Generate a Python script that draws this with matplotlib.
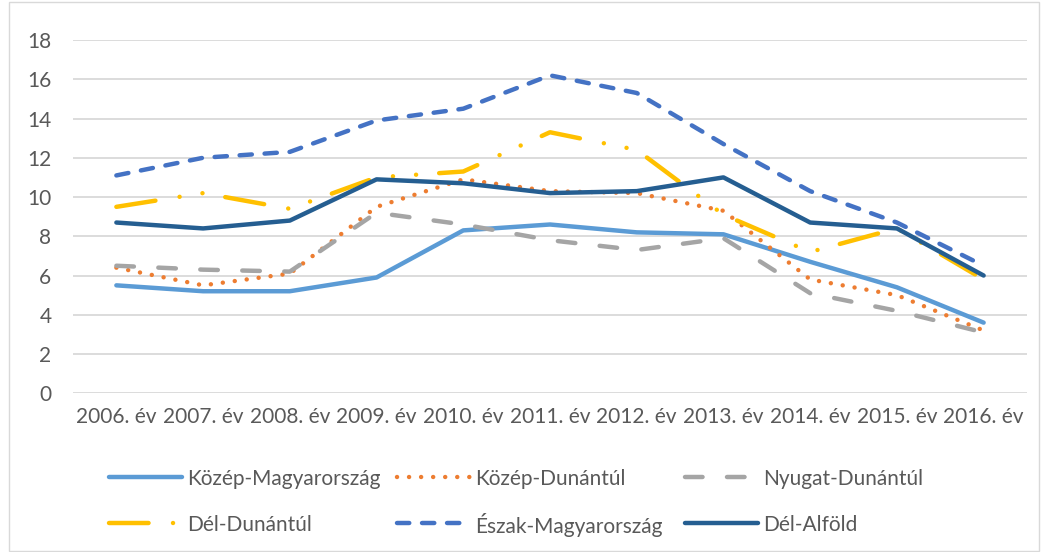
import matplotlib
matplotlib.use("Agg")
import matplotlib.pyplot as plt
from matplotlib.patches import Rectangle
from matplotlib.lines import Line2D

plt.rcParams['font.family'] = ['Lato', 'DejaVu Sans']

# data
years = ['2006. év', '2007. év', '2008. év', '2009. év', '2010. év', '2011. év',
         '2012. év', '2013. év', '2014. év', '2015. év', '2016. év']
kozep_magyar = [5.5, 5.2, 5.2, 5.9, 8.3, 8.6, 8.2, 8.1, 6.7, 5.4, 3.6]
kozep_dunantul = [6.4, 5.5, 6.1, 9.5, 10.9, 10.3, 10.2, 9.3, 5.8, 5.0, 3.2]
nyugat_dunantul = [6.5, 6.3, 6.2, 9.2, 8.6, 7.8, 7.3, 7.9, 5.1, 4.2, 3.1]
del_dunantul = [9.5, 10.2, 9.4, 11.0, 11.3, 13.3, 12.4, 9.1, 7.2, 8.4, 5.8]
eszak_magyar = [11.1, 12.0, 12.3, 13.9, 14.5, 16.2, 15.3, 12.7, 10.3, 8.7, 6.5]
del_alfold = [8.7, 8.4, 8.8, 10.9, 10.7, 10.2, 10.3, 11.0, 8.7, 8.4, 6.0]

W, H = 1041, 552
fig = plt.figure(figsize=(W / 100, H / 100), dpi=100)
ax = fig.add_axes([73 / W, 1 - 393.3 / H, (1027 - 73) / W, (393.3 - 40) / H])

x = list(range(len(years)))
lw = 3.2
series = [
    ('Közép-Magyarország', kozep_magyar, '#5B9BD5', '-'),
    ('Közép-Dunántúl', kozep_dunantul, '#ED7D31', (0, (0.01, 2.7))),
    ('Nyugat-Dunántúl', nyugat_dunantul, '#A5A5A5', (0, (3.95, 5.5))),
    ('Dél-Dunántúl', del_dunantul, '#FFC000', (0, (8.9, 5.5, 0.01, 5.2, 0.01, 5.2))),
    ('Észak-Magyarország', eszak_magyar, '#4472C4', (0, (2.76, 2.87))),
    ('Dél-Alföld', del_alfold, '#255E91', '-'),
]
style = dict(lw=lw, dash_capstyle='round', solid_capstyle='round',
             solid_joinstyle='round')
for name, vals, col, ls in series:
    ax.plot(x, vals, color=col, linestyle=ls, label=name, **style)

ax.set_xlim(-0.5, len(years) - 0.5)
ax.set_ylim(0, 18)
ax.set_yticks(range(0, 19, 2))
ax.set_xticks(x)
ax.set_xticklabels(years)
ax.grid(axis='y', color='#D9D9D9', lw=1.3)
ax.set_axisbelow(True)
for s in ax.spines.values():
    s.set_visible(False)
ax.tick_params(axis='y', length=0, pad=15.5, labelsize=15, labelcolor='#595959')
ax.tick_params(axis='x', length=0, pad=10, labelsize=15, labelcolor='#595959')

# legend: 3 columns x 2 rows laid out like the Excel one
col_x = [109, 397, 685]
row_y = [477, 523]
hlen = 73
for i, (name, vals, col, ls) in enumerate(series):
    r, c = divmod(i, 3)
    x0 = col_x[c]
    y0 = 1 - row_y[r] / H
    fig.add_artist(Line2D([x0 / W, (x0 + hlen) / W], [y0, y0],
                          transform=fig.transFigure, color=col, linestyle=ls, **style))
    fig.text((x0 + hlen + 5) / W, y0, name, fontsize=15, color='#595959',
             ha='left', va='center_baseline')

fig.patches.append(Rectangle((8.5 / W, 1 / H), (1039 - 8.5) / W, (550 - 1) / H,
                             transform=fig.transFigure, fill=False,
                             edgecolor='#D9D9D9', lw=1))

fig.savefig('out.png', dpi=100)
